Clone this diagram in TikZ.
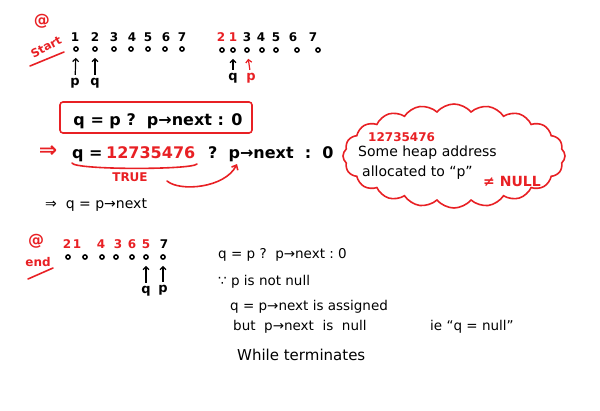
\documentclass[tikz,border=0pt]{standalone}
\usepackage{fontspec}
\setmainfont{DejaVu Sans}
\usetikzlibrary{shapes.symbols,arrows.meta}
\definecolor{hred}{RGB}{232,32,36}
\tikzset{
  num/.style={font=\fontsize{12}{13}\selectfont\bfseries, inner sep=0pt, anchor=base},
  rnum/.style={num, text=hred},
  dot/.style={circle, draw, line width=1.5pt, inner sep=0pt, minimum size=4.2pt},
  lab/.style={font=\fontsize{13}{14}\selectfont\bfseries, inner sep=1pt},
  up/.style={-{Straight Barb[length=3pt,width=6pt]}, line width=1.2pt, shorten >=6pt, shorten <=2pt},
  txt/.style={font=\fontsize{13.5}{15}\selectfont, inner sep=0pt, anchor=base west},
  big/.style={font=\fontsize{16}{18}\selectfont\bfseries, inner sep=0pt, anchor=base},
  redline/.style={hred, line width=1.6pt, line cap=round},
}
\begin{document}
\begin{tikzpicture}[x=1pt,y=-1pt]
\useasboundingbox (0,0) rectangle (600,410);
% start label
\node[text=hred, font=\fontsize{16}{16}\selectfont\bfseries, inner sep=0pt] (at1) at (42,21) {@};
\node[text=hred, font=\fontsize{11.5}{12}\selectfont\bfseries, rotate=28, inner sep=0pt] (start) at (46,47) {Start};
\coordinate (s1) at (30,66); \coordinate (s2) at (64,52);
\draw[redline] (s1) -- (s2);
% row 1
\foreach \n/\x in {1/75,2/95,3/114,4/132,5/148,6/166,7/182}{
  \node[num] (a\n) at (\x,41) {\n};
}
\foreach \i/\x in {1/76,2/95,3/114,4/131,5/148,6/165,7/182}{
  \node[dot] (ad\i) at (\x,49) {};
}
\node[lab] (ap) at (75,83) {p};
\node[lab] (aq) at (95,83) {q};
\draw[up] (ap) -- (ad1);
\draw[up] (aq) -- (ad2);
% row 2
\node[rnum] (b2) at (221,41) {2};
\node[rnum] (b1) at (233,41) {1};
\foreach \n/\x in {3/247,4/261,5/276,6/293,7/313}{
  \node[num] (b\n) at (\x,41) {\n};
}
\foreach \i/\x in {1/222,2/233,3/247,4/262,5/276,6/297,7/318}{
  \node[dot] (bd\i) at (\x,50) {};
}
\node[lab] (bq) at (233,78) {q};
\node[lab, text=hred] (bp) at (251,78) {p};
\draw[up] (bq) -- (bd2);
\draw[up, hred] (bp) -- (bd3);
% boxed expression
\node[draw=hred, line width=1.6pt, rounded corners=3pt, minimum width=192pt, minimum height=31pt, inner sep=0pt] (box) at (156,117.5) {};
\node[big] (boxt) at (158,125) {q = p ?\ \ p→next : 0};
% second line
\node[text=hred, font=\fontsize{22}{22}\selectfont\bfseries, inner sep=0pt] (imp1) at (48,152) {⇒};
\node[big, anchor=base west] (q2) at (72,158) {q =};
\node[big, anchor=base west, text=hred] (addr) at (106,158) {12735476};
\node[big, anchor=base west] (rest) at (208,158) {?\ \ p→next\ \ :\ \ 0};
\coordinate (u1) at (72,163); \coordinate (u2) at (197,164);
\draw[redline] (u1) .. controls (74,170) and (192,170) .. (u2);
\node[text=hred, font=\fontsize{12}{12}\selectfont\bfseries, inner sep=0pt] (true) at (130,177) {TRUE};
\coordinate (c1) at (167,181); \coordinate (c2) at (237,164);
\draw[redline, -{Straight Barb[length=4pt,width=7pt]}] (c1) .. controls (180,192) and (225,188) .. (c2);
\node[txt, font=\fontsize{14}{15}\selectfont] (line3) at (45,208) {⇒\ \ q = p→next};
% cloud
\node[cloud, draw=hred, line width=1.6pt, cloud puffs=20, cloud puff arc=100, aspect=2.3, minimum width=222pt, minimum height=104pt] (cloud) at (454,156) {};
\node[txt, text=hred, font=\fontsize{12}{13}\selectfont\bfseries] (caddr) at (368,141) {12735476};
\node[txt, font=\fontsize{14}{15}\selectfont] (c1t) at (358,156) {Some heap address};
\node[txt, font=\fontsize{14}{15}\selectfont] (c2t) at (362,176) {allocated to “p”};
\node[txt, text=hred, font=\fontsize{14}{15}\selectfont\bfseries] (cne) at (483,186) {≠ NULL};
% end label
\node[text=hred, font=\fontsize{16}{16}\selectfont\bfseries, inner sep=0pt] (at2) at (36,241) {@};
\node[text=hred, font=\fontsize{12}{12}\selectfont\bfseries, inner sep=0pt] (endl) at (38,262) {end};
\coordinate (e1) at (28,279); \coordinate (e2) at (53,268);
\draw[redline] (e1) -- (e2);
% end row
\node[rnum] (c2n) at (67,248) {2};
\node[rnum] (c1n) at (77,248) {1};
\node[rnum] (c4n) at (101,248) {4};
\node[rnum] (c3n) at (118,248) {3};
\node[rnum] (c6n) at (132,248) {6};
\node[rnum] (c5n) at (146,248) {5};
\node[num] (c7n) at (164,248) {7};
\foreach \i/\x in {1/68,2/85,3/102,4/116,5/132,6/146,7/163}{
  \node[dot] (cd\i) at (\x,257) {};
}
\node[lab] (cq) at (146,291) {q};
\node[lab] (cp) at (163,290) {p};
\draw[up] (cq) -- (cd6);
\draw[up] (cp) -- (cd7);
% explanation
\node[txt] (x1) at (218,258) {q = p\ ?\ \ p→next\ :\ 0};
\node[txt] (x2) at (218,285) {∵ p is not null};
\node[txt] (x3) at (230,310) {q = p→next is assigned};
\node[txt] (x4) at (233,330) {but\ \ p→next\ \ is\ \ null};
\node[txt] (x5) at (430,330) {ie “q = null”};
\node[txt, font=\fontsize{15}{16}\selectfont] (x6) at (237,360) {While terminates};
\end{tikzpicture}
\end{document}
